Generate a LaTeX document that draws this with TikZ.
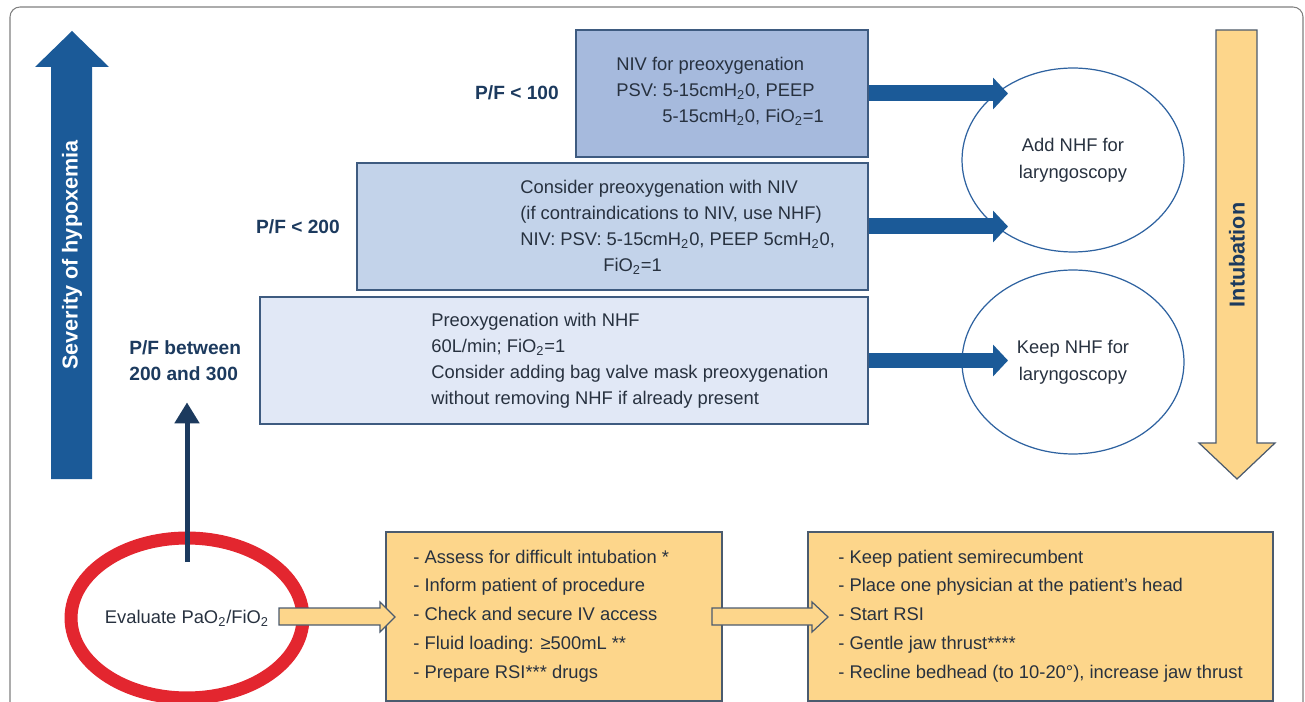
\documentclass[tikz,border=0pt]{standalone}
\usepackage{fontspec}
\setmainfont{Liberation Sans}
\usetikzlibrary{shapes.geometric}
\usetikzlibrary{arrows.meta}

\definecolor{navy}{HTML}{1C3A5E}
\definecolor{sevblue}{HTML}{1B5A98}
\definecolor{boxone}{HTML}{A6BADD}
\definecolor{boxtwo}{HTML}{C3D3EA}
\definecolor{boxthree}{HTML}{E1E8F6}
\definecolor{boxline}{HTML}{3E5B80}
\definecolor{peach}{HTML}{FDD68B}
\definecolor{peachline}{HTML}{4B5B6E}
\definecolor{ringred}{HTML}{E3262F}
\definecolor{ovalline}{HTML}{2E62A0}
\definecolor{ink}{HTML}{27313F}

\tikzset{
  pfbox/.style={draw=boxline, line width=0.7pt, minimum height=2.54cm, inner sep=0pt},
  stepbox/.style={draw=peachline, fill=peach, line width=0.7pt, minimum height=3.38cm, inner sep=0pt},
  txt/.style={font=\fontsize{10.45}{14.8}\selectfont, text=ink, align=left, inner sep=0pt},
  pf/.style={font=\bfseries\fontsize{10.9}{14.8}\selectfont, text=navy, align=left, inner sep=0pt},
  oval/.style={ellipse, draw=ovalline, line width=0.7pt, minimum width=4.44cm, minimum height=3.68cm,
    inner sep=0pt, font=\fontsize{10.45}{15.3}\selectfont, text=ink, align=center},
  fatarrow/.style={sevblue, line width=0.32cm, -{Triangle[width=0.62cm,length=0.3cm]}},
  hollow/.style={draw=peachline, fill=peach, line width=0.7pt},
  sidelabel/.style={font=\bfseries\fontsize{12.3}{14}\selectfont, rotate=90, inner sep=0pt}
}

\begin{document}
\begin{tikzpicture}[x=0.02cm,y=-0.02cm]
\useasboundingbox (0,0) rectangle (1305,702);
\draw[gray, line width=0.6pt, rounded corners=0.2cm] (10,7) rectangle (1303,720);

% severity arrow
\fill[sevblue] (51,479) -- (51,67) -- (35,67) -- (72,31) -- (109,67) -- (92,67) -- (92,479) -- cycle;
\node[sidelabel, white] (severity) at (72,255) {Severity of hypoxemia};

% intubation arrow
\filldraw[hollow] (1216,30) -- (1257,30) -- (1257,443) -- (1275,443) -- (1237,479) -- (1199,443) -- (1216,443) -- cycle;
\node[sidelabel, navy] (intubation) at (1237,255) {Intubation};

% P/F levels
\node[pfbox, fill=boxone, minimum width=5.84cm] (nivbox) at (722,93.5) {};
\node[txt, anchor=west] at (616,91) {NIV for preoxygenation\\
PSV: 5-15cmH\textsubscript{2}0, PEEP\\
\hspace*{0.92cm}5-15cmH\textsubscript{2}0, FiO\textsubscript{2}=1};
\node[pf] (pf100) at (517,93) {P/F < 100};

\node[pfbox, fill=boxtwo, minimum width=10.22cm] (considerbox) at (612.5,226.5) {};
\node[txt, anchor=west] at (520,227) {Consider preoxygenation with NIV\\
(if contraindications to NIV, use NHF)\\
NIV: PSV: 5-15cmH\textsubscript{2}0, PEEP 5cmH\textsubscript{2}0,\\
\hspace*{1.66cm}FiO\textsubscript{2}=1};
\node[pf] (pf200) at (298,227) {P/F < 200};

\node[pfbox, fill=boxthree, minimum width=12.16cm] (nhfbox) at (564,360.5) {};
\node[txt, anchor=west] at (431,361) {Preoxygenation with NHF\\
60L/min; FiO\textsubscript{2}=1\\
Consider adding bag valve mask preoxygenation\\
without removing NHF if already present};
\node[pf, anchor=west] (pf300) at (129,361) {P/F between\\200 and 300};

\node[oval] (addnhf) at (1073,160) {Add NHF for\\laryngoscopy};
\node[oval] (keepnhf) at (1073,362) {Keep NHF for\\laryngoscopy};

\coordinate (tipline) at (1008,0);
\foreach \b in {nivbox,considerbox,nhfbox}
{
	\draw[fatarrow] (\b.east) -- (\b.east -| tipline);
}

% bottom row
\node[ellipse, draw=ringred, line width=0.26cm, minimum width=4.6cm, minimum height=3.2cm, inner sep=0pt,
  font=\fontsize{10.45}{14.8}\selectfont, text=ink] (evaluate) at (187,618) {Evaluate PaO\textsubscript{2}/FiO\textsubscript{2}};
\coordinate (evaltop) at (187,562);
\draw[navy, line width=0.1cm, -{Triangle[width=0.48cm,length=0.42cm]}] (evaltop) -- ([yshift=-0.42cm]pf300.south -| evaltop);

\node[stepbox, minimum width=6.72cm] (prepare) at (554,616.5) {};
\node[txt, font=\fontsize{10.45}{16.4}\selectfont, anchor=west] at (413,616) {- Assess for difficult intubation *\\
- Inform patient of procedure\\
- Check and secure IV access\\
- Fluid loading: ≥500mL **\\
- Prepare RSI*** drugs};

\node[stepbox, minimum width=9.3cm] (rsi) at (1040.5,616.5) {};
\node[txt, font=\fontsize{10.45}{16.4}\selectfont, anchor=west] at (838,616) {- Keep patient semirecumbent\\
- Place one physician at the patient’s head\\
- Start RSI\\
- Gentle jaw thrust****\\
- Recline bedhead (to 10-20°), increase jaw thrust};

\filldraw[hollow] (279,608) -- (380,608) -- (380,602) -- (395,617) -- (380,632) -- (380,625) -- (279,625) -- cycle;
\filldraw[hollow] (712,608) -- (812,608) -- (812,602) -- (828,617) -- (812,632) -- (812,625) -- (712,625) -- cycle;

\end{tikzpicture}
\end{document}
